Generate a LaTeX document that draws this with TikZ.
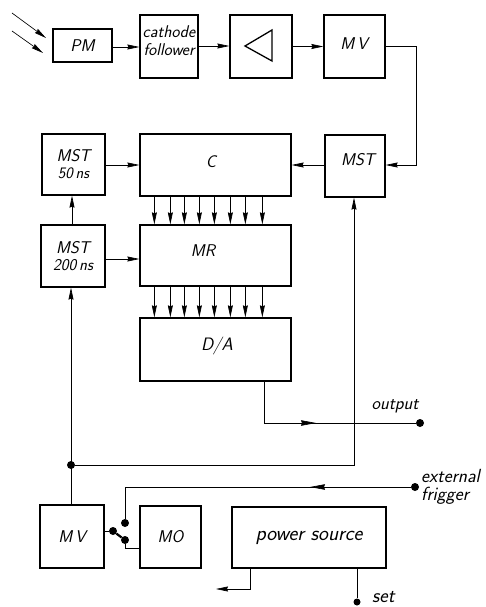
\documentclass[tikz,border=0pt]{standalone}
\usepackage{amsmath,amssymb}
\usepackage{tikz}
\usetikzlibrary{arrows.meta,calc}
\tikzset{
  blk/.style={draw,line width=1.3pt,inner sep=0pt,align=center,font=\sffamily\itshape\fontsize{17}{19}\selectfont},
  lab/.style={inner sep=0pt,align=center,font=\sffamily\itshape\fontsize{17}{19}\selectfont},
  dot/.style={circle,fill=black,inner sep=0pt,minimum size=8pt},
  sig/.style={line width=0.65pt,-{Stealth[inset=1pt,length=12pt,width=5pt]}},
  wire/.style={line width=0.65pt},
  midhead/.style={line width=0.65pt,{Stealth[inset=1pt,length=15pt,width=5.5pt]}-}
}
\begin{document}
\begin{tikzpicture}[x=1pt,y=-1pt]
  \useasboundingbox (0,0) rectangle (486,607);
  % upper row
  \node[blk,minimum width=59pt,minimum height=33pt] (pm) at (82.5,45.5) {PM};
  \node[blk,minimum width=58pt,minimum height=63pt] (cathode) at (169,46.5) {};
  \node[lab,font=\sffamily\itshape\fontsize{17}{18}\selectfont] (cathodetext) at (169,41) {cathode\\follower};
  \node[blk,minimum width=62pt,minimum height=63pt] (amp) at (261,46.5) {};
  \node[blk,minimum width=61pt,minimum height=63pt] (mvtop) at (354.5,46.5) {};
  \node[lab] (mvtoptext) at (354,44) {M\,V};
  \draw[line width=1.3pt] (245,46)--(272,30)--(272,61)--cycle;
  % counter and registers
  \node[blk,minimum width=63pt,minimum height=61pt] (mstfifty) at (73.5,164.5) {MST\\[-2pt]{\fontsize{16}{17}\selectfont 50\,ns}};
  \node[blk,minimum width=151pt,minimum height=62pt] (c) at (215.5,165) {};
  \node[lab] (ctext) at (211,162) {C};
  \node[blk,minimum width=60pt,minimum height=62pt] (mst) at (355,166) {};
  \node[lab] (msttext) at (358,160) {MST};
  \node[blk,minimum width=64pt,minimum height=62pt] (msttwo) at (73,256) {MST\\[-2pt]{\fontsize{16.5}{17}\selectfont 200\,ns}};
  \node[blk,minimum width=151pt,minimum height=61pt] (mr) at (215.5,255.5) {};
  \node[lab] (mrtext) at (203,251) {MR};
  \node[blk,minimum width=151pt,minimum height=63pt] (da) at (215.5,349.5) {};
  \node[lab,font=\sffamily\itshape\fontsize{18}{19}\selectfont] (datext) at (217,346) {D/A};
  % bottom row
  \node[blk,minimum width=64pt,minimum height=63pt] (mvbot) at (72,536.5) {M\,V};
  \node[blk,minimum width=61pt,minimum height=62pt] (mo) at (170.5,537) {MO};
  \node[blk,minimum width=154pt,minimum height=61pt,font=\sffamily\itshape\fontsize{21}{22}\selectfont] (power) at (309,537.5) {power source};
  % free ends and terminals
  \coordinate (rayaa) at (12,13);
  \coordinate (rayab) at (46,38);
  \coordinate (rayba) at (12,31);
  \coordinate (raybb) at (43,53);
  \node[dot] (junction) at (71,465) {};
  \node[dot] (outdot) at (420,423) {};
  \node[dot] (extdot) at (415,487) {};
  \node[dot,minimum size=7pt] (setdot) at (357,602) {};
  \node[dot] (conta) at (125,523) {};
  \node[dot] (contb) at (113,531) {};
  \node[dot] (contc) at (125,540) {};
  \coordinate (powerout) at (216,589);
  % signal path
  \draw[sig] (rayaa)--(rayab);
  \draw[sig] (rayba)--(raybb);
  \draw[sig] (pm.east|-0,47)--(cathode.west|-0,47);
  \draw[sig] (cathode.east|-0,46)--(amp.west|-0,46);
  \draw[sig] (amp.east)--(mvtop.west);
  \draw[sig] (mvtop.east)--(416,46.5)--(416,165)--(mst.east|-0,165);
  \draw[sig] (mst.west|-0,165)--(c.east|-0,165);
  \draw[sig] (mstfifty.east|-0,165)--(c.west|-0,165);
  \draw[sig] (msttwo.east|-0,259)--(mr.west|-0,259);
  \draw[sig] (msttwo.north-|72,0)--(mstfifty.south-|72,0);
  \foreach \x in {15,31,45,60,75,91,106,123} {
    \draw[sig] ($(c.south west)+(\x,0)$)--($(mr.north west)+(\x,0)$);
    \draw[sig] ($(mr.south west)+(\x,0)$)--($(da.north west)+(\x,0)$);
  }
  % clock lines
  \draw[sig] (mvbot.north-|71,0)--(msttwo.south-|71,0);
  \draw[sig] (junction)--(354,465)--(mst.south-|354,0);
  \draw[wire] (da.south-|264,0)--(264,423)--(outdot);
  \draw[midhead] (316,423)--(300,423);
  \draw[wire] (extdot)--(125,487)--(conta);
  \draw[midhead] (310,487)--(324,487);
  \draw[wire] (mvbot.east|-0,531)--(contb);
  \draw[line width=2.2pt] (contb)--(contc);
  \draw[wire] (contc)--(125,548)--(mo.west|-0,548);
  \draw[sig] (power.south-|250,0)--(250,589)--(powerout);
  \draw[wire] (power.south-|357,0)--(setdot);
  % labels
  \node[lab,font=\sffamily\itshape\fontsize{18}{19}\selectfont] (outtext) at (395,406) {output};
  \node[lab,align=left,anchor=west,font=\sffamily\itshape\fontsize{19}{18}\selectfont] (exttext) at (421,487) {external\\frigger};
  \node[lab,anchor=west,font=\sffamily\itshape\fontsize{20}{20}\selectfont] (settext) at (372,597) {set};
\end{tikzpicture}
\end{document}
